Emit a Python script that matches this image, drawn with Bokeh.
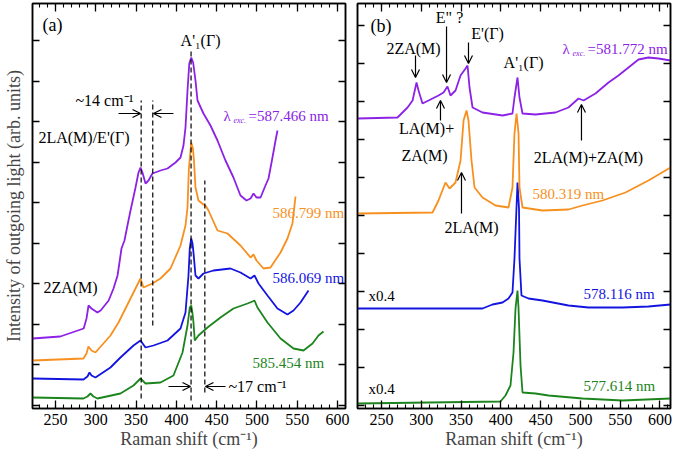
from bokeh.plotting import figure
from bokeh.models import Range1d, FixedTicker, LinearAxis, Label, Arrow, OpenHead, CustomLabelingPolicy
from bokeh.layouts import row
from bokeh.embed import file_html
from bokeh.resources import INLINE

FONT = "Liberation Serif"
PURPLE = "#8c22e6"
ORANGE = "#f7901e"
BLUE = "#1414e0"
GREEN = "#1c841c"

# ---------------- data: panel (a) ----------------
a_587466_x = [221.5, 256, 285, 288.5, 291, 294.7, 302, 306, 316, 322, 327, 329.4, 331.9, 335.6, 339.3,
              343.1, 349.3, 353, 355.5, 357.9, 361.7, 365.4, 370.3, 380.3, 389, 398.9, 405.1, 408.8, 411.3,
              413.8, 416, 418.4, 420.8, 423.7, 426.2, 433.6, 442.3, 451, 460.9, 470.8, 479.5, 487, 492,
              495.7, 499.4, 504.4, 510.5, 514.3, 519.2, 523, 525.4]
a_587466_y = [70, 72, 80, 90, 103, 100, 96, 98, 108, 120, 133, 146, 160, 168, 183,
              198, 221, 236, 241, 236, 225, 228, 235, 238, 240, 246, 251, 263, 281,
              318, 345, 351, 346, 328, 308, 295, 283, 268, 248, 231, 213, 208, 210,
              215, 211, 211, 223, 230, 251, 268, 278]

a_586799_x = [221.5, 284.7, 288.5, 290.9, 294.7, 299.6, 318.2, 328.2, 334.4, 346.8, 355.5, 359.2, 370.3,
              380.3, 392.7, 405.1, 411.3, 413.8, 415.5, 418.4, 420.5, 421.8, 423.7, 427.4, 433.6, 436.1,
              439.8, 451, 463.4, 479.5, 492, 495.7, 499.4, 508.1, 516.8, 529.2, 537.8, 544, 547.8]
a_586799_y = [48, 50, 55, 62, 58, 56, 73, 86, 96, 116, 130, 121, 125,
              130, 140, 163, 183, 201, 240, 266, 260, 248, 221, 208, 204, 203,
              198, 178, 175, 163, 151, 154, 148, 140, 141, 156, 170, 185, 212]

a_586069_x = [221.5, 284.7, 289.7, 292.2, 294.7, 299.6, 318.2, 330.6, 346.8, 355.5, 361.7, 371.6, 389,
              405.1, 411.3, 415, 416.6, 418.4, 420, 421.2, 423.7, 427.4, 433.6, 446, 467.1, 479.5, 492,
              496.9, 501.9, 513, 525.4, 537.8, 545.3, 554, 563.9]
a_586069_y = [30, 29, 32, 36, 33, 31, 41, 51, 63, 68, 61, 63, 68,
              80, 96, 133, 160, 170, 165, 156, 133, 130, 135, 138, 140, 136, 130,
              133, 125, 113, 100, 94, 98, 106, 118]

a_585454_x = [221.5, 284.7, 289.7, 293.4, 297.1, 302.1, 330.6, 346.8, 355.5, 361.7, 380.3, 396.4, 407.6,
              413.8, 416.6, 418.4, 420, 421.2, 422.8, 427.4, 438.6, 454.7, 470.8, 488.2, 494.4, 496.9,
              500.6, 513, 529.2, 545.3, 557.7, 568.9, 576.3, 582.5]
a_585454_y = [11, 10, 12, 15, 12, 10, 15, 23, 30, 25, 26, 33, 56,
              83, 101, 103, 95, 86, 68, 73, 81, 91, 100, 105, 107, 108,
              101, 86, 70, 60, 58, 65, 73, 77]

# ---------------- data: panel (b) ----------------
b_581772_x = [219.8, 270.1, 282.7, 289, 294, 296.5, 301.5, 309.1, 321.6, 327.9, 332.9, 336.7, 343, 349.3,
              355.6, 358.1, 360.6, 364.4, 376.9, 402.1, 414.6, 417.1, 420.9, 423.4, 427.2, 443.5, 468.7,
              485, 497.6, 503.9, 518.9, 535.3, 547.8, 560.4, 573, 585.5, 598.1, 613.2]
b_581772_y = [290, 291, 301, 308, 326, 318, 305, 308, 313, 316, 322, 313, 318, 333,
              340, 343, 321, 301, 296, 293, 295, 311, 331, 311, 295, 294, 296,
              301, 310, 308, 315, 326, 333, 341, 349, 351, 350, 348]

b_580319_x = [219.8, 314.1, 321.6, 330.4, 335.5, 343, 349.3, 353.1, 356.8, 359.3, 363.1, 366.9, 376.9,
              393.3, 409.6, 414.6, 417.1, 419.7, 422.2, 423.4, 427.2, 452.3, 485, 502.6, 527.7, 556.6,
              585.5, 613.2]
b_580319_y = [195, 196, 208, 226, 220, 226, 248, 288, 298, 288, 248, 221, 211,
              203, 201, 221, 275, 295, 275, 221, 201, 198, 199, 203, 208, 216,
              228, 241]

b_578116_x = [219.8, 376.9, 389.5, 402.1, 409.6, 414.6, 417.1, 419.6, 420.9, 422.8, 423.4, 425.9, 434.7,
              452.3, 485, 510.1, 552.9, 585.5, 613.2]
b_578116_y = [100, 100, 104, 106, 110, 116, 150, 200, 226, 200, 150, 113, 110,
              108, 103, 101, 101, 102, 104]

b_577614_x = [219.8, 399.5, 405.8, 412.1, 415.9, 418.4, 420.9, 422.2, 424.7, 427.2, 443.5, 459.9, 502.6,
              552.9, 613.2]
b_577614_y = [5, 7, 13, 23, 56, 100, 118, 100, 43, 16, 15, 13, 10,
              8, 10]

x_tick_values = [250, 300, 350, 400, 450, 500, 550, 600]
x_minor_values = list(range(220, 620, 10))
a_y_ticks = [3.5 + 40.5 * k for k in range(10)]
b_y_ticks = [3 + 38 * k for k in range(11)]

# peak markers in (a)
a_dash_x = [356.3, 370.7, 418.2, 435.3]
a_dash_top = [308, 308, 358, 228]
a_dash_bottom = [10, 83, 8, 16]

H = 454
NO_LABELS = "return []"


def hide_labels(ax):
    ax.major_label_policy = CustomLabelingPolicy(code=NO_LABELS)
    ax.major_label_text_font_size = "0px"
    ax.major_label_standoff = 0


def make_fig(width, xr, yticks, mbl, mbr, ylabel=None):
    p = figure(width=width, height=H, x_range=Range1d(*xr), y_range=Range1d(0, 405),
               output_backend="svg", toolbar_location=None,
               x_axis_location=None, y_axis_location=None,
               min_border_left=mbl, min_border_right=mbr, min_border_top=3, min_border_bottom=46)
    p.grid.visible = False
    p.outline_line_color = "black"
    p.outline_line_width = 1.5
    p.background_fill_color = "white"
    p.border_fill_color = "white"
    xt = FixedTicker(ticks=x_tick_values, minor_ticks=x_minor_values)
    yt = FixedTicker(ticks=yticks, minor_ticks=[])
    for loc in ("below", "above"):
        ax = LinearAxis(ticker=xt)
        ax.major_tick_in = 8
        ax.major_tick_out = 0
        ax.minor_tick_in = 4
        ax.minor_tick_out = 0
        ax.axis_line_width = 1.5
        ax.major_tick_line_width = 1.3
        ax.minor_tick_line_width = 1.1
        if loc == "below":
            ax.major_label_text_font = FONT
            ax.major_label_text_font_size = "16px"
            ax.major_label_text_color = "black"
            ax.major_label_standoff = 5
            ax.axis_label = "Raman shift (cm⁻¹)"
            ax.axis_label_text_font = FONT
            ax.axis_label_text_font_size = "18px"
            ax.axis_label_text_font_style = "normal"
            ax.axis_label_standoff = 1
        else:
            hide_labels(ax)
        p.add_layout(ax, loc)
    for loc in ("left", "right"):
        ax = LinearAxis(ticker=yt)
        ax.major_tick_in = 7
        ax.major_tick_out = 0
        ax.minor_tick_in = 0
        ax.minor_tick_out = 0
        ax.axis_line_width = 1.5
        ax.major_tick_line_width = 1.3
        hide_labels(ax)
        if loc == "left" and ylabel:
            ax.axis_label = ylabel
            ax.axis_label_text_font = FONT
            ax.axis_label_text_font_size = "18px"
            ax.axis_label_text_font_style = "normal"
            ax.axis_label_standoff = 9
        p.add_layout(ax, loc)
    return p


def lab(p, x, y, text, color="black", size="16px", align="left", baseline="middle",
        xo=0, yo=0, style="normal"):
    p.add_layout(Label(x=x, y=y, text=text, text_font=FONT, text_font_size=size,
                       text_color=color, text_align=align, text_baseline=baseline,
                       x_offset=xo, y_offset=yo, text_font_style=style))


def arrow(p, x0, y0, x1, y1):
    p.add_layout(Arrow(end=OpenHead(size=8, line_width=1.2, line_color="black"),
                       x_start=x0, y_start=y0, x_end=x1, y_end=y1,
                       line_width=1.2, line_color="black"))


def lam_label(p, x, y, value, color):
    lab(p, x, y, "λ", color=color, size="15px")
    lab(p, x, y, "exc.", color=color, size="8px", xo=10, yo=-5, style="italic")
    lab(p, x, y, "=" + value, color=color, size="15px", xo=25)


LW = 1.8

# ---------------- panel (a) ----------------
pa = make_fig(351, (221.5, 609.8), a_y_ticks, 32, 6,
              ylabel="Intensity of outgoing light (arb. units)")
pa.line(a_585454_x, a_585454_y, line_color=GREEN, line_width=LW)
pa.line(a_586069_x, a_586069_y, line_color=BLUE, line_width=LW)
pa.line(a_586799_x, a_586799_y, line_color=ORANGE, line_width=LW)
pa.line(a_587466_x, a_587466_y, line_color=PURPLE, line_width=LW)
pa.segment(x0=a_dash_x, y0=a_dash_bottom, x1=a_dash_x, y1=a_dash_top,
           line_color="black", line_width=1.2, line_dash="5 3")

lab(pa, 233.9, 384, "(a)", size="18px")
lab(pa, 430, 368, "A'₁(Γ)", align="center")
lab(pa, 274.8, 308, "~14 cm⁻¹")
arrow(pa, 328.2, 295, 355.5, 295)
arrow(pa, 396.4, 295, 371.6, 295)
lab(pa, 228.9, 271, "2LA(M)/E'(Γ)")
lam_label(pa, 458.4, 293, "587.466 nm", PURPLE)
lab(pa, 519.2, 196, "586.799 nm", color=ORANGE, size="15px")
lab(pa, 519.2, 131, "586.069 nm", color=BLUE, size="15px")
lab(pa, 494.4, 46, "585.454 nm", color=GREEN, size="15px")
lab(pa, 235.1, 121, "2ZA(M)")
lab(pa, 464.6, 22, "~17 cm⁻¹")
arrow(pa, 390.2, 22, 417.5, 22)
arrow(pa, 460.9, 22, 436.1, 22)

# ---------------- panel (b) ----------------
pb = make_fig(323, (219.8, 613.2), b_y_ticks, 6, 4)
pb.line(b_577614_x, b_577614_y, line_color=GREEN, line_width=LW)
pb.line(b_578116_x, b_578116_y, line_color=BLUE, line_width=LW)
pb.line(b_580319_x, b_580319_y, line_color=ORANGE, line_width=LW)
pb.line(b_581772_x, b_581772_y, line_color=PURPLE, line_width=LW)

lab(pb, 236.2, 383, "(b)", size="18px")
lab(pb, 290.2, 360, "2ZA(M)", align="center")
arrow(pb, 292.7, 353, 292.7, 331)
lab(pb, 335.5, 391, 'E" ?', align="center")
arrow(pb, 331.7, 382, 331.7, 326)
lab(pb, 383.2, 375, "E'(Γ)", align="center")
arrow(pb, 359.3, 366, 359.3, 345)
lab(pb, 428.5, 346, "A'₁(Γ)", align="center")
lam_label(pb, 477.5, 360, "581.772 nm", PURPLE)
lab(pb, 306.6, 280, "LA(M)+", align="center")
lab(pb, 304, 253, "ZA(M)", align="center")
arrow(pb, 324.1, 288, 324.1, 308)
lab(pb, 510.1, 251, "2LA(M)+ZA(M)", align="center")
arrow(pb, 501.3, 268, 501.3, 304)
lab(pb, 439.8, 215, "580.319 nm", color=ORANGE, size="15px")
lab(pb, 363.1, 181, "2LA(M)", align="center")
arrow(pb, 350.5, 195, 350.5, 236)
lab(pb, 233.7, 113, "x0.4", size="15px")
lab(pb, 233.7, 20, "x0.4", size="15px")
lab(pb, 503.9, 115, "578.116 nm", color=BLUE, size="15px")
lab(pb, 503.9, 23, "577.614 nm", color=GREEN, size="15px")

layout = row(pa, pb)
open("out.html", "w").write(file_html(layout, INLINE))
